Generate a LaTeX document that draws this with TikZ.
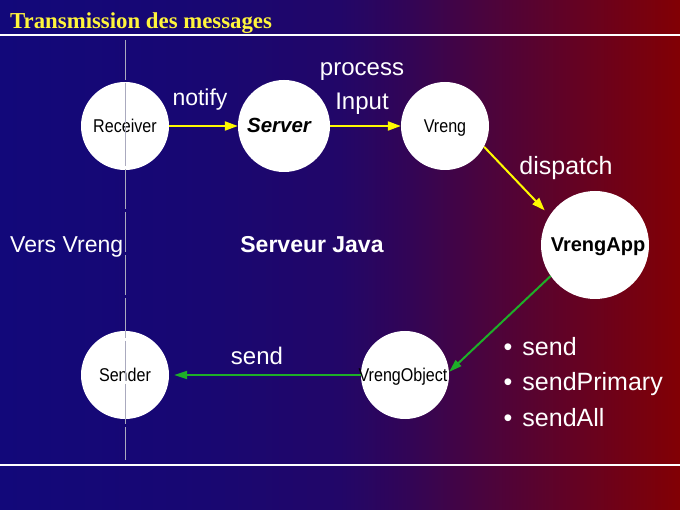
\documentclass[tikz,border=0pt]{standalone}
\usepackage{fontspec}
\usepackage{graphicx}
\setmainfont{Liberation Sans}
\newfontfamily\titlefont{Liberation Serif}
\usetikzlibrary{arrows.meta}

\definecolor{bgA}{RGB}{18,8,122}
\definecolor{bgB}{RGB}{24,7,114}
\definecolor{bgC}{RGB}{34,6,104}
\definecolor{bgC2}{RGB}{50,5,86}
\definecolor{bgD}{RGB}{72,4,64}
\definecolor{bgE}{RGB}{130,0,4}
\definecolor{titleyellow}{RGB}{255,245,60}
\definecolor{arrowyellow}{RGB}{255,250,0}
\definecolor{arrowgreen}{RGB}{30,175,40}
\definecolor{dashgrey}{RGB}{170,170,190}

\pgfdeclarehorizontalshading{bgshade}{100bp}{color(0bp)=(bgA); color(25bp)=(bgA); color(40bp)=(bgB); color(50bp)=(bgC); color(55bp)=(bgC2); color(60bp)=(bgD); color(75bp)=(bgE); color(100bp)=(bgE)}

\newcommand{\nar}[1]{\scalebox{0.87}[1]{#1}}
\newcommand{\ctxt}[2]{\makebox[0pt]{\hspace*{#1}\hspace*{#1}#2}}

\tikzset{
  circ/.style={circle, fill=white, draw=none, minimum size=#1, inner sep=0pt,
    text=black, text height=13pt, text depth=0pt, font=\fontsize{18.5}{20}\selectfont},
  yarrow/.style={draw=arrowyellow, line width=2pt, -{Triangle[length=13pt,width=9pt]}},
  garrow/.style={draw=arrowgreen, line width=2pt, -{Triangle[length=13pt,width=8pt]}},
  lbl/.style={text=white, inner sep=0pt, anchor=base, font=\fontsize{24}{26}\selectfont},
  sep/.style={white, line width=2pt},
  divider/.style={draw=dashgrey, line width=1pt, dash pattern=on 40pt off 3pt}
}

\begin{document}
\begin{tikzpicture}[x=1pt, y=-1pt]
\useasboundingbox (0,0) rectangle (680,510);
\fill[shading=bgshade] (0,0) rectangle (680,510);

% title and separators
\node[anchor=base west, text=titleyellow, inner sep=0pt,
      font=\titlefont\bfseries\fontsize{22.8}{24}\selectfont] (title) at (10,29) {Transmission des messages};
\draw[sep] (0,35) -- (680,35);
\draw[sep] (0,465) -- (680,465);

% circles
\node[circ=88pt] (rec) at (125,126) {\ctxt{0pt}{\nar{Receiver}}};
\node[circ=92pt] (srv) at (284,126) {\ctxt{-5pt}{\fontsize{20.5}{22}\selectfont\bfseries\itshape Server}};
\node[circ=88pt] (vr) at (445,126) {\ctxt{0pt}{\nar{Vreng}}};
\node[circ=108pt] (app) at (595,245) {\ctxt{3pt}{\fontsize{20}{22}\selectfont\bfseries VrengApp}};
\node[circ=88pt] (snd) at (125,375) {\ctxt{0pt}{\nar{Sender}}};
\node[circ=88pt] (obj) at (405,375) {\ctxt{-2pt}{\nar{VrengObject}}};

% connectors
\draw[yarrow] (rec) -- (srv);
\draw[yarrow] (srv) -- (vr);
\draw[yarrow, shorten >=7pt] (vr.-28) -- (app.147);
\draw[garrow] (app.-145) -- (obj.4);
\draw[garrow, shorten >=5pt] (obj.west) -- (snd.east);

% labels
\node[lbl, font=\fontsize{23}{25}\selectfont] (lnotify) at (200,106) {notify};
\node[lbl] (lproc) at (362,76) {process};
\node[lbl] (linput) at (362,110) {Input};
\node[lbl, font=\fontsize{25}{27}\selectfont] (ldisp) at (566,175) {dispatch};
\node[lbl, anchor=base west, font=\fontsize{23}{25}\selectfont] (lvers) at (10,253) {Vers Vreng};
\node[lbl, font=\fontsize{23}{25}\selectfont\bfseries] (ljava) at (312,253) {Serveur Java};
\node[lbl] (lsend) at (257,365) {send};
\node[lbl, anchor=base west, font=\fontsize{25}{27}\selectfont] (b1) at (503.5,356) {•\hspace{10pt}send};
\node[lbl, anchor=base west, font=\fontsize{25}{27}\selectfont] (b2) at (503.5,391) {•\hspace{10pt}sendPrimary};
\node[lbl, anchor=base west, font=\fontsize{25}{27}\selectfont] (b3) at (503.5,426) {•\hspace{10pt}sendAll};

% dashed divider
\draw[divider] (125.5,40) -- (125.5,460);
\end{tikzpicture}
\end{document}
